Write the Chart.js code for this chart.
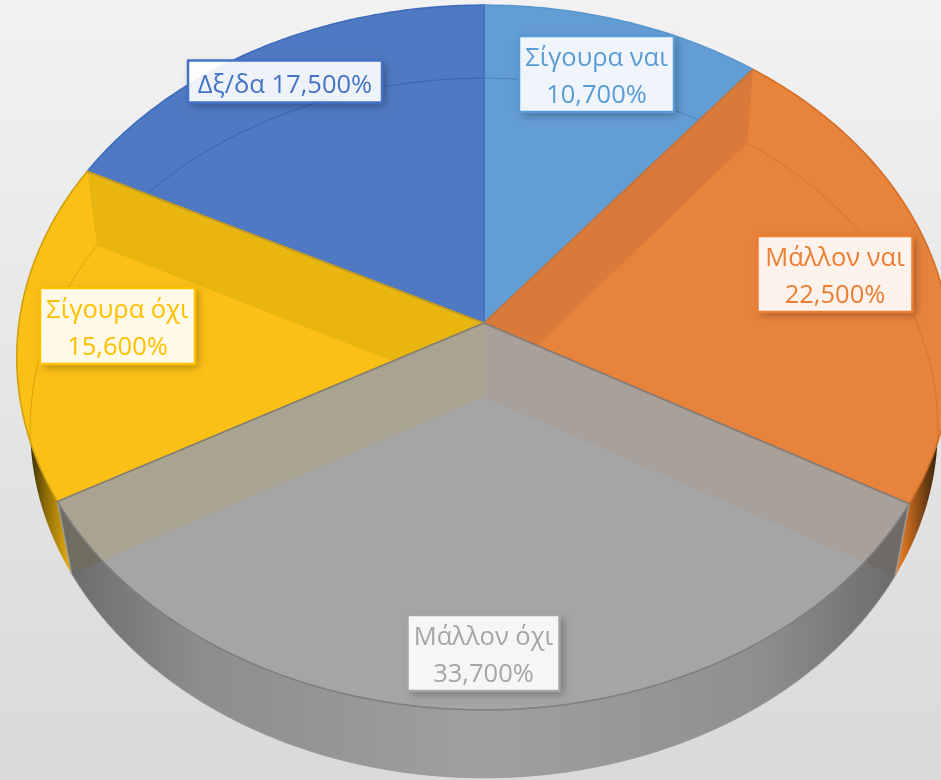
<!DOCTYPE html>
<html>
<head>
<meta charset="utf-8">
<title>Pie</title>
<style>
  html, body { margin: 0; padding: 0; background: #e6e6e6; overflow: hidden; }
  canvas { display: block; }
</style>
<script src="https://cdn.jsdelivr.net/npm/chart.js@4/dist/chart.umd.min.js"></script>
</head>
<body>
<canvas id="chart" width="941" height="780"></canvas>
<script>
const categories = ["Σίγουρα ναι", "Μάλλον ναι", "Μάλλον όχι", "Σίγουρα όχι", "Δξ/δα"];
const shares = [10.7, 22.5, 33.7, 15.6, 17.5];
const sliceColors = ["#629dd4", "#e8833c", "#a5a5a5", "#fbc016", "#4f79c2"];
const edgeColors = ["#5a96d0", "#d2702a", "#7f7f7f", "#cfa10f", "#3f6cbc"];
const labelColors = ["#5b9bd5", "#ed7d31", "#a5a5a5", "#ffc000", "#4472c4"];
const baseRimTints = ["rgba(50,100,170,0.45)", "rgba(190,90,30,0.4)", null, "rgba(170,120,0,0.4)", "rgba(40,80,160,0.5)"];

// perspective of the pie, fitted to the corners of the slices
const topFace = { cx: 484, cy: 323, a: 465, b: 349, k: 0.098 };
const baseFace = { cx: 484, cy: 397, a: 452, b: 347, k: 0.0886 };

// outer wall shading, left to right: [x, colour]
const wallShades = [
    [[900, "#e8833c"], [941, "#2a1a0a"]],
    [[900, "#e57a22"], [941, "#2a1a0a"]],
    [[68, "#6c6c6c"], [200, "#8d8d8d"], [484, "#a0a0a0"], [760, "#8f8f8f"], [896, "#6c6c6c"]],
    [[22, "#140f00"], [45, "#8a6a08"], [68, "#e0a810"]],
    [[22, "#140f00"], [68, "#e0a810"]]
];

// label boxes: centre and size, one per slice
const labelBoxes = [
    { x: 596.5, y: 74, w: 155, h: 76 },
    { x: 835, y: 274, w: 155, h: 76 },
    { x: 483.5, y: 653, w: 152, h: 76 },
    { x: 117.5, y: 326, w: 155, h: 76 },
    { x: 285, y: 81.5, w: 194, h: 42 }
];

function project(face, angle) {
    const X = Math.cos(angle);
    const Y = -Math.sin(angle);
    const w = 1 + face.k * Y;
    return [face.cx + face.a * X / w, face.cy - face.b * Y / w];
}

function rim(face, start, end) {
    const steps = Math.max(2, Math.ceil(Math.abs(end - start) / 0.01));
    const pts = [];
    for (let i = 0; i <= steps; i++) {
        pts.push(project(face, start + (end - start) * i / steps));
    }
    return pts;
}

function trace(ctx, pts, close) {
    ctx.beginPath();
    pts.forEach((p, i) => (i ? ctx.lineTo(p[0], p[1]) : ctx.moveTo(p[0], p[1])));
    if (close) ctx.closePath();
}

function slicePts(arc) {
    return [[topFace.cx, topFace.cy], ...rim(topFace, arc.startAngle, arc.endAngle)];
}

function wallPts(arc) {
    return [...rim(topFace, arc.startAngle, arc.endAngle), ...rim(baseFace, arc.startAngle, arc.endAngle).reverse()];
}

function innerWallPts(angle) {
    return [[topFace.cx, topFace.cy], project(topFace, angle), project(baseFace, angle), [baseFace.cx, baseFace.cy]];
}

function fillInside(ctx, clipPts, pts, fill) {
    ctx.save();
    trace(ctx, clipPts, true);
    ctx.clip();
    trace(ctx, pts, true);
    ctx.fillStyle = fill;
    ctx.fill();
    ctx.restore();
}

const pie3d = {
    id: "pie3d",
    beforeDraw(chart) {
        const { ctx, width, height } = chart;
        const bg = ctx.createLinearGradient(0, 0, 0, height);
        bg.addColorStop(0, "#f2f2f2");
        bg.addColorStop(1, "#d9d9d9");
        ctx.fillStyle = bg;
        ctx.fillRect(0, 0, width, height);
    },
    // the arcs keep the angles the library worked out, only the projection is ours
    beforeDatasetsDraw(chart) {
        const ctx = chart.ctx;
        const arcs = chart.getDatasetMeta(0).data;
        const order = [0, 4, 3, 1, 2];

        arcs.forEach((arc, i) => {
            const shade = ctx.createLinearGradient(wallShades[i][0][0], 0, wallShades[i][wallShades[i].length - 1][0], 0);
            const x0 = wallShades[i][0][0];
            const span = wallShades[i][wallShades[i].length - 1][0] - x0;
            wallShades[i].forEach(s => shade.addColorStop((s[0] - x0) / span, s[1]));
            trace(ctx, wallPts(arc), true);
            ctx.fillStyle = shade;
            ctx.fill();
        });

        arcs.forEach(arc => {
            trace(ctx, slicePts(arc), true);
            ctx.fillStyle = arc.options.backgroundColor;
            ctx.fill();
        });

        // back walls seen through the top face
        const grey = arcs[2];
        const orange = arcs[1];
        const yellow = arcs[3];
        fillInside(ctx, slicePts(orange), innerWallPts(orange.startAngle), "#d9793a");
        fillInside(ctx, slicePts(yellow), innerWallPts(yellow.endAngle), "#e9b60f");
        fillInside(ctx, slicePts(grey), innerWallPts(grey.startAngle), "#a8a09a");
        fillInside(ctx, slicePts(grey), innerWallPts(grey.endAngle), "#a9a391");
        fillInside(ctx, wallPts(grey), innerWallPts(grey.startAngle), "#6f6a66");
        fillInside(ctx, wallPts(grey), innerWallPts(grey.endAngle), "#6f6c60");

        // rim of the base, faint through the top
        arcs.forEach((arc, i) => {
            if (!baseRimTints[i]) return;
            ctx.save();
            trace(ctx, slicePts(arc), true);
            ctx.clip();
            trace(ctx, rim(baseFace, arc.startAngle, arc.endAngle), false);
            ctx.strokeStyle = baseRimTints[i];
            ctx.lineWidth = 1;
            ctx.stroke();
            ctx.restore();
        });
        trace(ctx, rim(baseFace, grey.startAngle, grey.endAngle), false);
        ctx.strokeStyle = "#9a9a9a";
        ctx.lineWidth = 1;
        ctx.stroke();

        [grey.startAngle, grey.endAngle].forEach(angle => {
            trace(ctx, [project(topFace, angle), project(baseFace, angle)], false);
            ctx.strokeStyle = "#9c9c9c";
            ctx.lineWidth = 1.5;
            ctx.stroke();
        });

        order.forEach(i => {
            trace(ctx, slicePts(arcs[i]), true);
            ctx.strokeStyle = arcs[i].options.borderColor;
            ctx.lineWidth = 1.6;
            ctx.lineJoin = "round";
            ctx.stroke();
        });
        return false;
    },
    afterDraw(chart) {
        const ctx = chart.ctx;
        const values = chart.data.datasets[0].data;
        chart.data.labels.forEach((name, i) => {
            const box = labelBoxes[i];
            const left = box.x - box.w / 2;
            const top = box.y - box.h / 2;
            const pct = values[i].toFixed(3).replace(".", ",") + "%";

            ctx.save();
            ctx.beginPath();
            ctx.rect(0, 0, chart.width, chart.height);
            ctx.rect(left, top, box.w, box.h);
            ctx.clip("evenodd");
            ctx.shadowColor = "rgba(0,0,0,0.3)";
            ctx.shadowBlur = 8;
            ctx.shadowOffsetX = 3;
            ctx.shadowOffsetY = 3;
            ctx.fillStyle = "#fff";
            ctx.fillRect(left, top, box.w, box.h);
            ctx.restore();

            ctx.fillStyle = "rgba(255,255,255,0.9)";
            ctx.fillRect(left, top, box.w, box.h);
            ctx.strokeStyle = labelColors[i];
            ctx.lineWidth = 2.5;
            ctx.strokeRect(left, top, box.w, box.h);

            ctx.fillStyle = labelColors[i];
            ctx.font = '25.5px "Open Sans"';
            ctx.textAlign = "center";
            ctx.textBaseline = "alphabetic";
            if (box.h > 50) {
                ctx.fillText(name, box.x, box.y - 8);
                ctx.fillText(pct, box.x, box.y + 28.5);
            } else {
                ctx.fillText(name + " " + pct, box.x, box.y + 11);
            }
        });
    }
};

new Chart(document.getElementById("chart"), {
    type: "pie",
    data: {
        labels: categories,
        datasets: [{
            data: shares,
            backgroundColor: sliceColors,
            borderColor: edgeColors
        }]
    },
    options: {
        responsive: false,
        animation: false,
        plugins: {
            legend: { display: false },
            tooltip: { enabled: false }
        }
    },
    plugins: [pie3d]
});
</script>
</body>
</html>
